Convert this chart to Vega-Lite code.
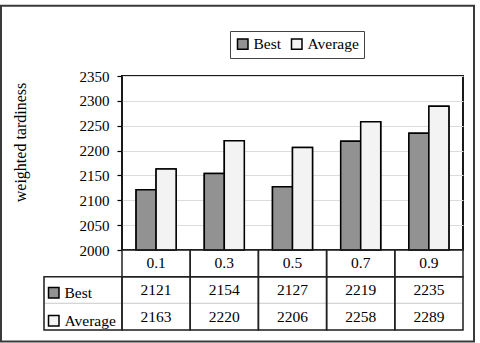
{
  "$schema": "https://vega.github.io/schema/vega-lite/v6.json",
  "width": 341,
  "height": 174,
  "autosize": {"type": "none"},
  "padding": {"left": 122, "top": 76, "right": 17, "bottom": 93},
  "background": "#ffffff",
  "config": {
    "font": "Liberation Serif",
    "view": {"stroke": "#1a1a1a", "strokeWidth": 2}
  },
  "data": {"values": [
    {"p": "0.1", "Best": 2121, "Average": 2163},
    {"p": "0.3", "Best": 2154, "Average": 2220},
    {"p": "0.5", "Best": 2127, "Average": 2206},
    {"p": "0.7", "Best": 2219, "Average": 2258},
    {"p": "0.9", "Best": 2235, "Average": 2289}
  ]},
  "layer": [
    {
      "transform": [{"fold": ["Best", "Average"], "as": ["series", "value"]}],
      "mark": {"type": "bar", "stroke": "#000", "strokeWidth": 1.5},
      "encoding": {
        "x": {"field": "p", "type": "nominal", "axis": null, "scale": {"paddingInner": 0, "paddingOuter": 0}},
        "xOffset": {"field": "series", "type": "nominal", "sort": ["Best", "Average"], "scale": {"domain": ["Best", "Average"], "paddingInner": 0, "paddingOuter": 0.705}},
        "y": {"field": "value", "type": "quantitative",
          "scale": {"domain": [2000, 2350], "zero": false, "nice": false},
          "axis": {"values": [2000, 2050, 2100, 2150, 2200, 2250, 2300, 2350], "format": "d",
            "title": "weighted tardiness", "titleFont": "Liberation Serif", "titleFontSize": 16, "titleFontWeight": "normal", "titleColor": "#000",
            "titleX": -102, "titleY": 66, "titleBaseline": "middle", "titleAlign": "center", "titleAngle": 270,
            "labelFont": "Liberation Serif", "labelFontSize": 15, "labelColor": "#000", "labelPadding": 8,
            "tickSize": 5, "tickColor": "#000", "tickWidth": 1.2, "domain": false,
            "grid": true, "gridColor": "#dcdcdc", "gridWidth": 1}},
        "y2": {"datum": 2000},
        "fill": {"field": "series", "type": "nominal", "sort": ["Best", "Average"],
          "scale": {"domain": ["Best", "Average"], "range": ["#929292", "#f3f3f3"]},
          "legend": {"orient": "none", "legendX": 108, "legendY": -45, "direction": "horizontal", "title": null,
            "strokeColor": "#444", "fillColor": "#fff", "padding": 5, "symbolType": "square", "symbolSize": 110,
            "symbolStrokeColor": "#000", "symbolStrokeWidth": 1.5, "labelFont": "Liberation Serif", "labelFontSize": 15.5,
            "labelColor": "#000", "columnPadding": 6, "labelOffset": 3}}
      }
    },
    {
      "transform": [{"fold": ["Best", "Average"], "as": ["series", "value"]}],
      "mark": {"type": "bar", "stroke": "#000", "strokeWidth": 1.5},
      "encoding": {
        "x": {"field": "p", "type": "nominal", "axis": null, "scale": {"paddingInner": 0, "paddingOuter": 0}},
        "xOffset": {"field": "series", "type": "nominal", "sort": ["Best", "Average"], "scale": {"domain": ["Best", "Average"], "paddingInner": 0, "paddingOuter": 0.705}},
        "y": {"field": "value", "type": "quantitative", "scale": {"domain": [2000, 2350], "zero": false, "nice": false}, "axis": null},
        "y2": {"datum": 2000},
        "fill": {"field": "series", "type": "nominal", "sort": ["Best", "Average"],
          "scale": {"domain": ["Best", "Average"], "range": ["#929292", "#f3f3f3"]},
          "legend": {"orient": "none", "legendX": -76, "legendY": 209, "direction": "vertical", "title": null,
            "symbolType": "square", "symbolSize": 110, "symbolStrokeColor": "#000", "symbolStrokeWidth": 1.5,
            "labelFont": "Liberation Serif", "labelFontSize": 15.5, "labelColor": "#000", "rowPadding": 10, "labelOffset": 3}}
      }
    },
    {
      "transform": [{"fold": ["Best", "Average"], "as": ["series", "value"]}],
      "mark": {"type": "rect", "fill": "transparent", "stroke": "#d4d4d4", "strokeWidth": 1},
      "encoding": {
        "x": {"field": "p", "type": "nominal", "axis": null, "scale": {"paddingInner": 0, "paddingOuter": 0}},
        "y": {"field": "series", "type": "nominal", "axis": null, "scale": {"domain": ["hdr", "Best", "Average"], "range": [174, 254], "paddingInner": 0, "paddingOuter": 0}}
      }
    },
    {
      "transform": [{"fold": ["Best", "Average"], "as": ["series", "value"]}, {"aggregate": [{"op": "count", "as": "n"}], "groupby": ["series"]}],
      "mark": {"type": "rect", "fill": "transparent", "stroke": "#d4d4d4", "strokeWidth": 1},
      "encoding": {
        "x": {"datum": "lbl", "type": "nominal", "axis": null, "scale": {"domain": ["lbl"], "range": [-78, 0], "paddingInner": 0, "paddingOuter": 0}},
        "y": {"field": "series", "type": "nominal", "axis": null, "scale": {"domain": ["hdr", "Best", "Average"], "range": [174, 254], "paddingInner": 0, "paddingOuter": 0}}
      }
    },
    {
      "mark": {"type": "rect", "fill": "transparent", "stroke": "#222", "strokeWidth": 1.5},
      "encoding": {
        "x": {"field": "p", "type": "nominal", "axis": null, "scale": {"paddingInner": 0, "paddingOuter": 0}},
        "y": {"datum": "vals", "type": "nominal", "axis": null, "scale": {"domain": ["vals"], "range": [200.67, 254], "paddingInner": 0, "paddingOuter": 0}}
      }
    },
    {
      "transform": [{"aggregate": [{"op": "count", "as": "n"}]}],
      "mark": {"type": "rect", "fill": "transparent", "stroke": "#222", "strokeWidth": 1.5},
      "encoding": {
        "x": {"datum": "lbl", "type": "nominal", "axis": null, "scale": {"domain": ["lbl"], "range": [-78, 0], "paddingInner": 0, "paddingOuter": 0}},
        "y": {"datum": "vals", "type": "nominal", "axis": null, "scale": {"domain": ["vals"], "range": [200.67, 254], "paddingInner": 0, "paddingOuter": 0}}
      }
    },
    {
      "mark": {"type": "rect", "fill": "transparent", "stroke": "#222", "strokeWidth": 1.5},
      "encoding": {
        "x": {"field": "p", "type": "nominal", "axis": null, "scale": {"paddingInner": 0, "paddingOuter": 0}},
        "y": {"datum": "hdr", "type": "nominal", "axis": null, "scale": {"domain": ["hdr", "Best", "Average"], "range": [174, 254], "paddingInner": 0, "paddingOuter": 0}}
      }
    },
    {
      "mark": {"type": "text", "font": "Liberation Serif", "fontSize": 15.5, "color": "#000", "baseline": "middle"},
      "encoding": {
        "x": {"field": "p", "type": "nominal", "axis": null, "scale": {"paddingInner": 0, "paddingOuter": 0}},
        "y": {"datum": "hdr", "type": "nominal", "axis": null, "scale": {"domain": ["hdr", "Best", "Average"], "range": [174, 254], "paddingInner": 0, "paddingOuter": 0}},
        "text": {"field": "p", "type": "nominal"}
      }
    },
    {
      "transform": [{"fold": ["Best", "Average"], "as": ["series", "value"]}],
      "mark": {"type": "text", "font": "Liberation Serif", "fontSize": 15.5, "color": "#000", "baseline": "middle"},
      "encoding": {
        "x": {"field": "p", "type": "nominal", "axis": null, "scale": {"paddingInner": 0, "paddingOuter": 0}},
        "y": {"field": "series", "type": "nominal", "axis": null, "scale": {"domain": ["hdr", "Best", "Average"], "range": [174, 254], "paddingInner": 0, "paddingOuter": 0}},
        "text": {"field": "value", "type": "quantitative", "format": "d"}
      }
    },
    {
      "transform": [{"aggregate": [{"op": "count", "as": "n"}]}],
      "mark": {"type": "rect", "fill": "transparent", "stroke": "#3a3a3a", "strokeWidth": 2},
      "encoding": {
        "x": {"datum": 0, "type": "quantitative", "axis": null, "scale": {"domain": [0, 1], "range": [-121, 352], "zero": false, "nice": false}},
        "x2": {"datum": 1},
        "y": {"datum": 0, "type": "quantitative", "axis": null, "scale": {"domain": [0, 1], "range": [-70.3, 265.5], "zero": false, "nice": false}},
        "y2": {"datum": 1}
      }
    }
  ],
  "resolve": {
    "scale": {"x": "independent", "y": "independent", "fill": "independent", "xOffset": "independent"},
    "axis": {"x": "independent", "y": "independent"},
    "legend": {"fill": "independent"}
  }
}
